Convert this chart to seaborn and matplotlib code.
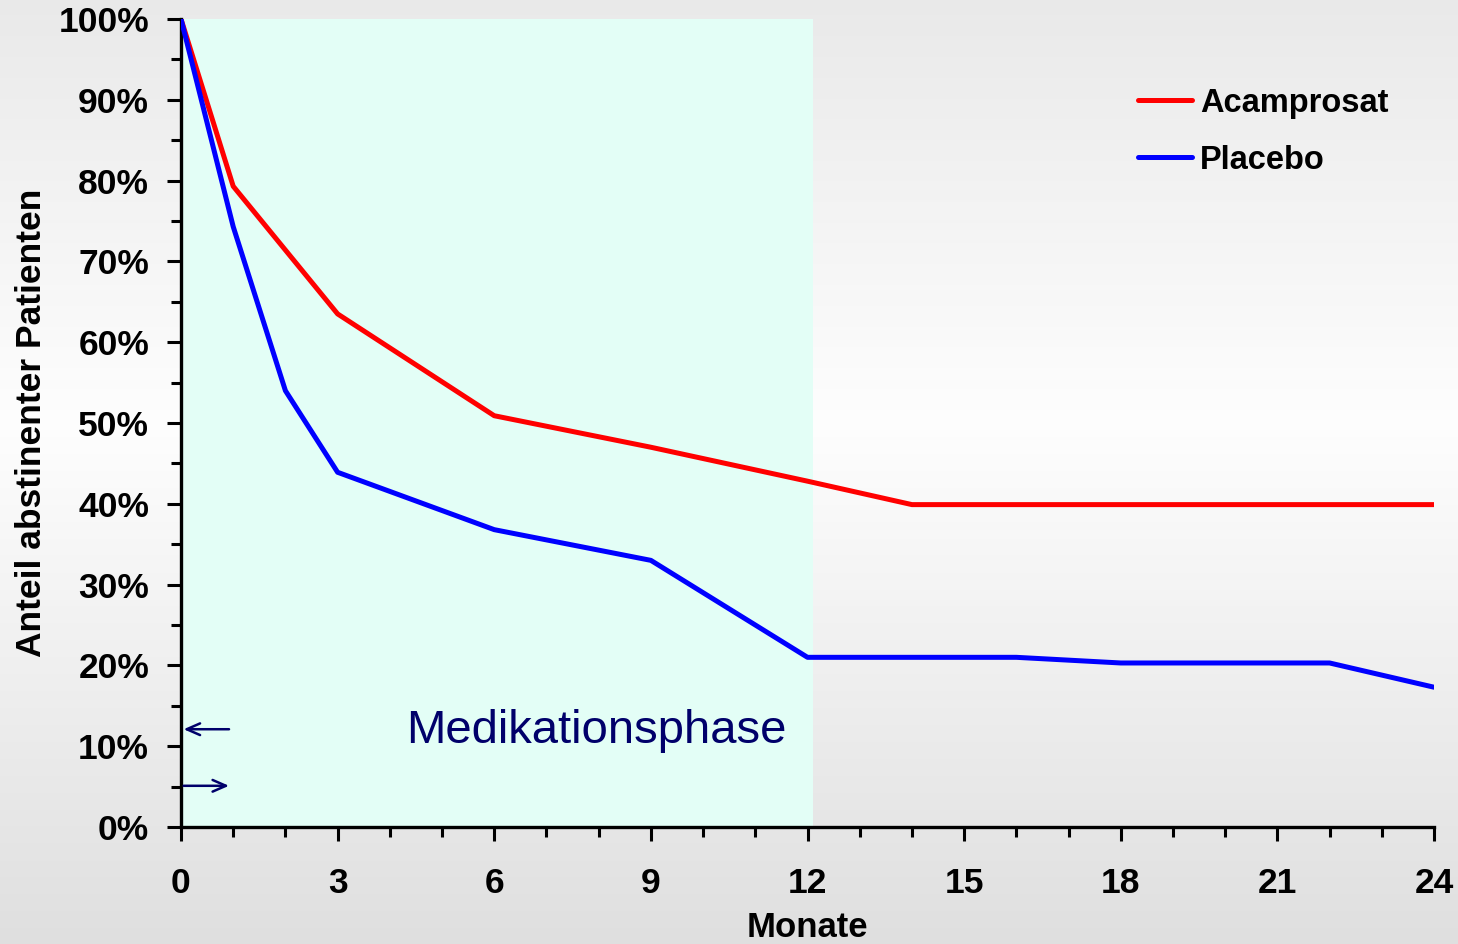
import numpy as np
import pandas as pd
import matplotlib
matplotlib.use("Agg")
import matplotlib.pyplot as plt
from matplotlib.ticker import MultipleLocator, FuncFormatter
import seaborn as sns

# ---- data ----
months_acam = [0, 1, 3, 6, 9, 12, 14, 16, 18, 20, 22, 24]
acamprosat = [100, 79.3, 63.5, 50.9, 47.0, 42.8, 39.9, 39.9, 39.9, 39.9, 39.9, 39.9]
months_plac = [0, 1, 2, 3, 6, 9, 12, 14, 16, 18, 20, 22, 24]
placebo = [100, 74.3, 54.0, 43.9, 36.8, 33.0, 21.0, 21.0, 21.0, 20.3, 20.3, 20.3, 17.3]
series_names = ["Acamprosat", "Placebo"]
x_ticks = [0, 3, 6, 9, 12, 15, 18, 21, 24]
y_ticks = [0, 10, 20, 30, 40, 50, 60, 70, 80, 90, 100]
medication_end = 12.1
phase_label = "Medikationsphase"

df = pd.concat([
    pd.DataFrame({"Monate": months_acam, "Wert": acamprosat, "Gruppe": series_names[0]}),
    pd.DataFrame({"Monate": months_plac, "Wert": placebo, "Gruppe": series_names[1]}),
], ignore_index=True)

sns.set_theme(style="white")
plt.rcParams["font.family"] = ["Liberation Sans", "DejaVu Sans"]
plt.rcParams["text.color"] = "black"

fig = plt.figure(figsize=(14.58, 9.44), dpi=100)

# background gradient
bg = fig.add_axes([0, 0, 1, 1], zorder=-10)
stops_y = np.array([0.0, 0.45, 1.0])
stops_v = np.array([0.915, 0.995, 0.875])
yy = np.linspace(0, 1, 400)
vals = np.interp(yy, stops_y, stops_v)
img = np.repeat(vals[:, None], 2, axis=1)
bg.imshow(np.dstack([img, img, img]), aspect="auto", extent=[0, 1, 0, 1], origin="upper")
bg.set_axis_off()

ax = fig.add_axes([181 / 1458, 1 - 827 / 944, (1434 - 181) / 1458, (827 - 19) / 944])
ax.patch.set_alpha(0)

ax.axvspan(0, medication_end, ymin=0, ymax=1, color="#e3fef6", zorder=0, lw=0)

sns.lineplot(data=df, x="Monate", y="Wert", hue="Gruppe",
             palette={"Acamprosat": "#ff0000", "Placebo": "#0000ff"},
             linewidth=3.6, ax=ax, zorder=3, legend=True)

ax.set_xlim(0, 24)
ax.set_ylim(0, 100)
ax.set_xticks(x_ticks)
ax.set_yticks(y_ticks)
ax.xaxis.set_minor_locator(MultipleLocator(1))
ax.yaxis.set_minor_locator(MultipleLocator(5))
ax.yaxis.set_major_formatter(FuncFormatter(lambda v, p: f"{int(v)}%"))

for s in ["top", "right"]:
    ax.spines[s].set_visible(False)
for s in ["left", "bottom"]:
    ax.spines[s].set_color("black")
    ax.spines[s].set_linewidth(2.4)

ax.tick_params(axis="both", which="major", direction="out", length=10, width=2.2,
               color="black", labelsize=25.5, labelcolor="black")
ax.tick_params(axis="both", which="minor", direction="out", length=7, width=2.2,
               color="black")
ax.tick_params(axis="x", which="major", pad=19)
ax.tick_params(axis="y", which="major", pad=13)
ax.tick_params(axis="both", which="both", bottom=True, left=True)
for lab in ax.get_xticklabels() + ax.get_yticklabels():
    lab.set_fontweight("bold")

ax.set_xlabel("Monate", fontsize=25, fontweight="bold", color="black", labelpad=8)
ax.set_ylabel("Anteil abstinenter Patienten", fontsize=25.5, fontweight="bold", color="black")
ax.yaxis.set_label_coords(-0.1065, 0.5)

ax.text(7.95, 10.4, phase_label, fontsize=34, color="#00006a", ha="center", va="baseline", zorder=4)

arrow_style = dict(arrowstyle="->,head_length=0.8,head_width=0.35", color="#00006a", lw=1.8,
                   shrinkA=0, shrinkB=0)
ax.annotate("", xy=(0.05, 12.1), xytext=(0.92, 12.1), arrowprops=arrow_style, zorder=4)
ax.annotate("", xy=(0.92, 5.1), xytext=(0.05, 5.1), arrowprops=arrow_style, zorder=4)

leg = ax.legend(loc="upper left", bbox_to_anchor=(0.7534, 0.9313), frameon=False,
                fontsize=23.5, handlelength=1.65, handletextpad=0.25, labelspacing=0.8,
                borderaxespad=0)
for t in leg.get_texts():
    t.set_fontweight("bold")
    t.set_color("black")
for l in leg.get_lines():
    l.set_linewidth(3.6)

fig.savefig("out.png", dpi=100)
